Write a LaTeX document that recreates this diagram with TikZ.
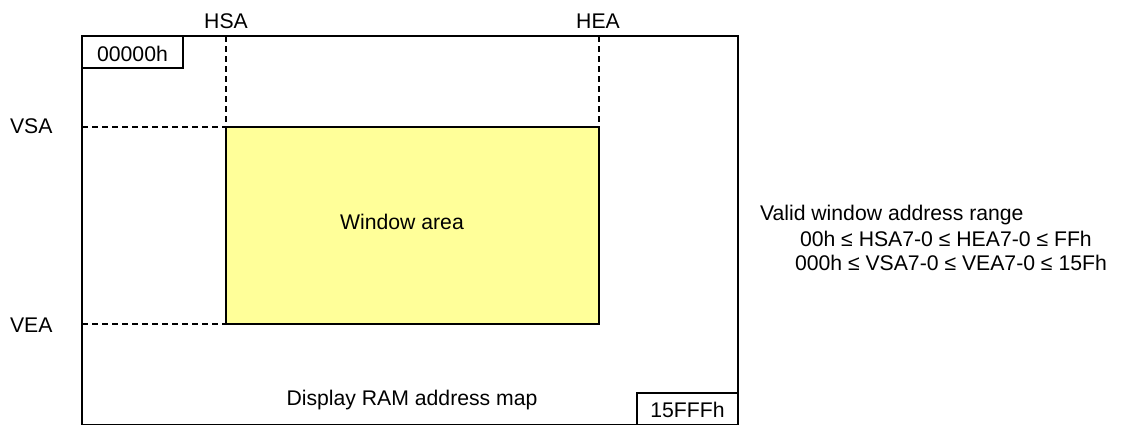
\documentclass[tikz,border=0pt]{standalone}
\usepackage{fontspec}
\setmainfont{Liberation Sans}
\begin{document}
\begin{tikzpicture}[x=1pt,y=-1pt,
  lbl/.style={font=\fontsize{21.2}{25}\selectfont, inner sep=0pt, outer sep=0pt},
  frame/.style={draw=black, line width=1.5pt},
  guide/.style={draw=black, line width=1.3pt, dash pattern=on 6pt off 4pt},
  win/.style={draw=black, line width=1.5pt, fill=winyellow}]
\definecolor{winyellow}{HTML}{FFFF99}
\useasboundingbox (0,0) rectangle (1122,426);
% outer map
\draw[frame] (82,36) rectangle (738,424.5);
% window area
\draw[win] (226,127) rectangle (599,324);
% corner boxes
\draw[frame] (82,36) rectangle (183,68);
\draw[frame] (637,393) rectangle (738,424.5);
% guide coordinates
\coordinate (hsaT) at (226,36);
\coordinate (hsaB) at (226,127);
\coordinate (heaT) at (599,36);
\coordinate (heaB) at (599,127);
\coordinate (vsaL) at (82,127);
\coordinate (veaL) at (82,324);
\coordinate (veaR) at (226,324);
\draw[guide] (hsaT) -- (hsaB);
\draw[guide] (heaT) -- (heaB);
\draw[guide] (vsaL) -- (hsaB);
\draw[guide] (veaL) -- (veaR);
% labels
\node[lbl, anchor=base] (hsa) at (226,28) {HSA};
\node[lbl, anchor=base] (hea) at (598,28) {HEA};
\node[lbl, anchor=base west] (vsa) at (10,133) {VSA};
\node[lbl, anchor=base west] (vea) at (10,332) {VEA};
\node[lbl, anchor=base] (start) at (132.5,61) {00000h};
\node[lbl, anchor=base] (endaddr) at (687.5,417) {15FFFh};
\node[lbl, anchor=base] (warea) at (402,229) {Window area};
\node[lbl, anchor=base] (map) at (412,405) {Display RAM address map};
\node[lbl, anchor=base west] (range) at (760,220) {Valid window address range};
\node[lbl, anchor=base west] (hrange) at (800,246) {00h ≤ HSA7-0 ≤ HEA7-0 ≤ FFh};
\node[lbl, anchor=base west] (vrange) at (795,270) {000h ≤ VSA7-0 ≤ VEA7-0 ≤ 15Fh};
\end{tikzpicture}
\end{document}
